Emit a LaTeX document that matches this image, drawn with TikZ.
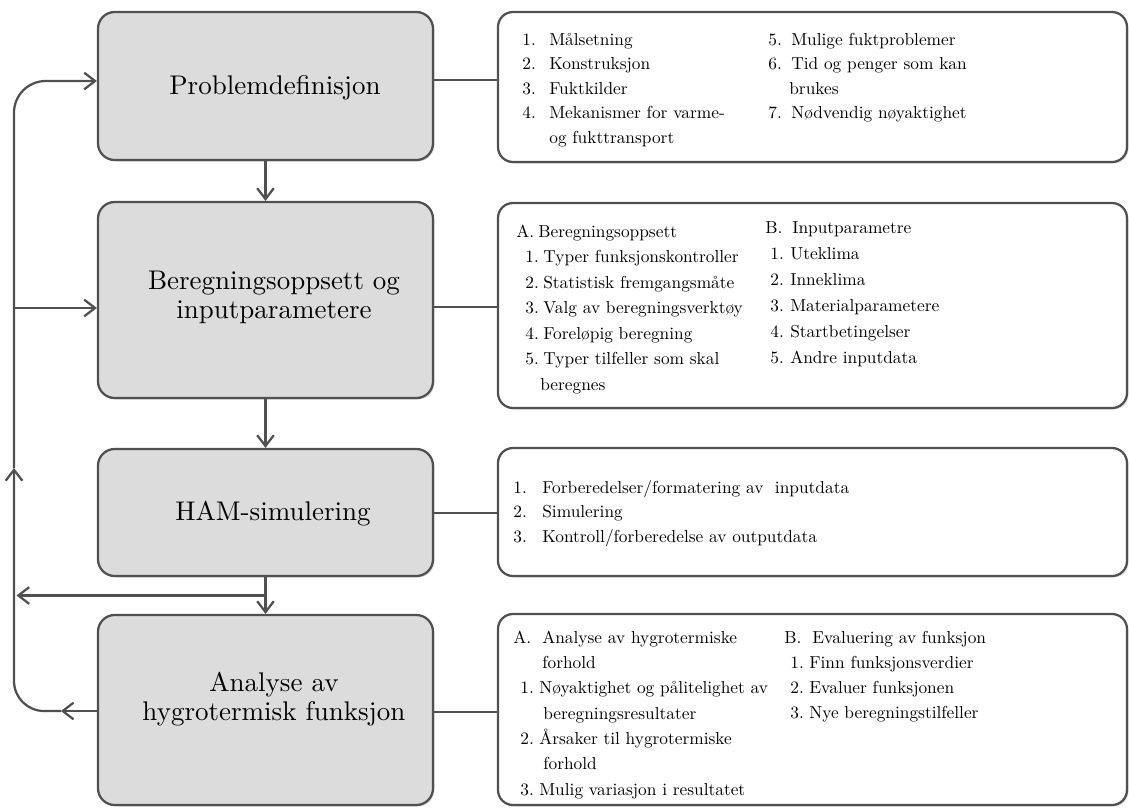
\documentclass[tikz,border=0pt]{standalone}
\usepackage{fontspec}
\usetikzlibrary{arrows.meta,shadows,calc}
\newdimen\px \px=0.6pt
\definecolor{ln}{HTML}{505050}
\definecolor{gbox}{HTML}{DCDCDC}
\begin{document}
\begin{tikzpicture}[x=0.6pt,y=-0.6pt,
  stage/.style={draw=ln, line width=1.35pt, fill=gbox, rounded corners=10pt,
    minimum width=201pt, inner sep=0pt,
    drop shadow={shadow xshift=0.9pt,shadow yshift=-0.9pt,opacity=0.3}},
  info/.style={draw=ln, line width=1.35pt, fill=white, rounded corners=9pt,
    minimum width=377.4pt, inner sep=0pt,
    drop shadow={shadow xshift=0.9pt,shadow yshift=-0.9pt,opacity=0.3}},
  conn/.style={draw=ln, line width=1.35pt},
  arr/.style={conn, -{Straight Barb[length=6.5pt,width=10pt]}},
  title/.style={font=\fontsize{10}{11.1}\selectfont, inner sep=0pt},
  body/.style={anchor=base west, inner sep=0pt},
]
\useasboundingbox (0,0) rectangle (1129,807);

% stage boxes
\node[stage, minimum height=88.8pt]  (b1) at (265.5,86) {};
\node[stage, minimum height=117.6pt] (b2) at (265.5,300) {};
\node[stage, minimum height=76.2pt]  (b3) at (265.5,512.5) {};
\node[stage, minimum height=114pt]   (b4) at (265.5,710) {};

\node[title] (t1) at (275,88) {\scalebox{1.62}{Problemdefinisjon}};
\node[title] (t2) at (274,298) {\scalebox{1.62}{\begin{tabular}{@{}c@{}}Beregningsoppsett og\\inputparametere\end{tabular}}};
\node[title] (t3) at (273,514) {\scalebox{1.62}{HAM-simulering}};
\node[title] (t4) at (274,700) {\scalebox{1.62}{\begin{tabular}{@{}c@{}}Analyse av\\hygrotermisk funksjon\end{tabular}}};

% info boxes
\node[info, minimum height=90pt]    (r1) at (812.5,87) {};
\node[info, minimum height=123pt]   (r2) at (812.5,305.5) {};
\node[info, minimum height=76.8pt]  (r3) at (812.5,512) {};
\node[info, minimum height=114.6pt] (r4) at (812.5,709.5) {};

% R1 text
\node[body, font=\fontsize{10.4}{14.7}\selectfont] (r1a) at (522,45) {\begin{tabular}[t]{@{}l@{}}
\makebox[27\px][l]{1.}Målsetning\\
\makebox[27\px][l]{2.}Konstruksjon\\
\makebox[27\px][l]{3.}Fuktkilder\\
\makebox[27\px][l]{4.}Mekanismer for varme-\\
\hspace*{27\px}og fukttransport
\end{tabular}};
\node[body, font=\fontsize{10.4}{14.7}\selectfont] (r1b) at (768,45) {\begin{tabular}[t]{@{}l@{}}
\makebox[23\px][l]{5.}Mulige fuktproblemer\\
\makebox[23\px][l]{6.}Tid og penger som kan\\
\hspace*{21\px}brukes\\
\makebox[23\px][l]{7.}Nødvendig nøyaktighet
\end{tabular}};

% R2 text
\node[body, font=\fontsize{10.4}{15.3}\selectfont] (r2a) at (516,237) {\begin{tabular}[t]{@{}l@{}}
\makebox[22\px][l]{A.}Beregningsoppsett\\
\hspace*{9\px}\makebox[18\px][l]{1.}Typer funksjonskontroller\\
\hspace*{9\px}\makebox[18\px][l]{2.}Statistisk fremgangsmåte\\
\hspace*{9\px}\makebox[18\px][l]{3.}Valg av beregningsverktøy\\
\hspace*{9\px}\makebox[18\px][l]{4.}Foreløpig beregning\\
\hspace*{9\px}\makebox[18\px][l]{5.}Typer tilfeller som skal\\
\hspace*{24\px}beregnes
\end{tabular}};
\node[body, font=\fontsize{10.4}{15.6}\selectfont] (r2b) at (765,233) {\begin{tabular}[t]{@{}l@{}}
\makebox[27\px][l]{B.}Inputparametre\\
\hspace*{5\px}\makebox[20\px][l]{1.}Uteklima\\
\hspace*{5\px}\makebox[20\px][l]{2.}Inneklima\\
\hspace*{5\px}\makebox[20\px][l]{3.}Materialparametere\\
\hspace*{5\px}\makebox[20\px][l]{4.}Startbetingelser\\
\hspace*{5\px}\makebox[20\px][l]{5.}Andre inputdata
\end{tabular}};

% R3 text
\node[body, font=\fontsize{10.4}{14.7}\selectfont] (r3a) at (513,493) {\begin{tabular}[t]{@{}l@{}}
\makebox[29\px][l]{1.}Forberedelser/formatering av~~inputdata\\
\makebox[29\px][l]{2.}Simulering\\
\makebox[29\px][l]{3.}Kontroll/forberedelse av outputdata
\end{tabular}};

% R4 text
\node[body, font=\fontsize{10.4}{15.2}\selectfont] (r4a) at (513,643) {\begin{tabular}[t]{@{}l@{}}
\makebox[29\px][l]{A.}Analyse av hygrotermiske\\
\hspace*{29\px}forhold\\
\hspace*{7\px}\makebox[19\px][l]{1.}Nøyaktighet og pålitelighet av\\
\hspace*{30\px}beregningsresultater\\
\hspace*{7\px}\makebox[19\px][l]{2.}Årsaker til hygrotermiske\\
\hspace*{30\px}forhold\\
\hspace*{7\px}\makebox[19\px][l]{3.}Mulig variasjon i resultatet
\end{tabular}};
\node[body, font=\fontsize{10.4}{15}\selectfont] (r4b) at (784,643) {\begin{tabular}[t]{@{}l@{}}
\makebox[28\px][l]{B.}Evaluering av funksjon\\
\hspace*{6\px}\makebox[19\px][l]{1.}Finn funksjonsverdier\\
\hspace*{6\px}\makebox[19\px][l]{2.}Evaluer funksjonen\\
\hspace*{6\px}\makebox[19\px][l]{3.}Nye beregningstilfeller
\end{tabular}};

% connectors to info boxes
\coordinate (q1) at ($(b1.east)+(0,-6)$);
\coordinate (q2) at ($(b2.east)+(0,7)$);
\coordinate (q3) at ($(b3.east)+(0,0.5)$);
\coordinate (q4) at ($(b4.east)+(0,2)$);
\draw[conn] (q1) -- (q1 -| r1.west);
\draw[conn] (q2) -- (q2 -| r2.west);
\draw[conn] (q3) -- (q3 -| r3.west);
\draw[conn] (q4) -- (q4 -| r4.west);

% main flow
\draw[arr] (b1.south) -- (b2.north);
\draw[arr] (b2.south) -- (b3.north);
\draw[arr] (b3.south) -- (b4.north);

% feedback loop
\coordinate (c1) at ($(b4.west)+(-36,1)$);
\coordinate (c2) at (14,468);
\coordinate (p1) at ($(b1.west)+(0,-5)$);
\coordinate (p2) at ($(b2.west)+(0,8)$);
\coordinate (m) at ($(b3.south)!0.5!(b4.north)$);
\draw[arr] ($(b4.west)+(0,1)$) -- (c1);
\draw[arr, rounded corners=18pt] (c1) -| (c2);
\draw[arr, rounded corners=19pt] (c2) |- (p1);
\draw[arr] (c2 |- p2) -- (p2);
\draw[arr, shorten >=1.5pt] (m) -- (m -| c2);
\end{tikzpicture}
\end{document}
